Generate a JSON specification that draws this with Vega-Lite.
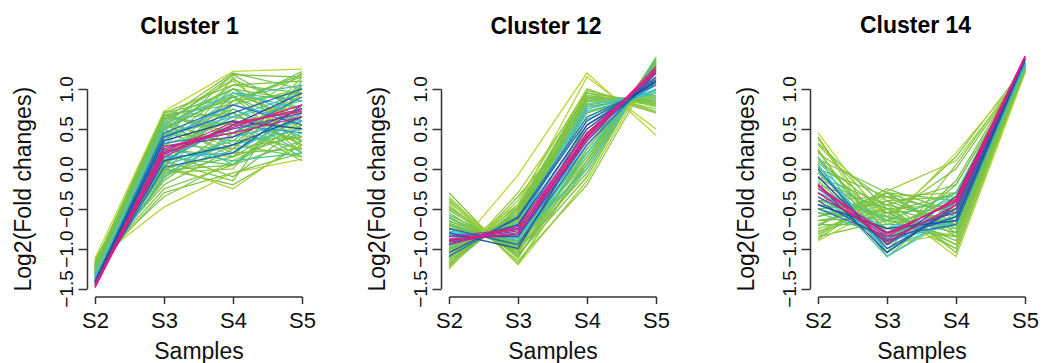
{
  "$schema": "https://vega.github.io/schema/vega-lite/v6.json",
  "background": "white",
  "padding": {"left": 12, "top": 14, "right": 5, "bottom": 3},
  "config": {
    "font": "Liberation Sans",
    "view": {"stroke": null},
    "axis": {"grid": false, "domainColor": "#333", "tickColor": "#333", "domainWidth": 1.5, "tickWidth": 1.5, "labelColor": "#111", "titleColor": "#111", "titleFontWeight": "normal", "labelFont": "Liberation Sans", "titleFont": "Liberation Sans"},
    "axisX": {"labelAngle": 0, "offset": 8, "tickSize": 7, "labelFontSize": 22, "titleFontSize": 23, "labelPadding": 7, "titlePadding": 9},
    "axisY": {"values": [-1.5, -1, -0.5, 0, 0.5, 1], "format": ".1f", "offset": 8, "tickSize": 9, "labelAngle": -90, "labelAlign": "center", "labelBaseline": "alphabetic", "labelFontSize": 19, "labelPadding": 6, "labelOverlap": false, "titleFontSize": 23, "titlePadding": 22},
    "title": {"font": "Liberation Sans", "fontSize": 23, "fontWeight": "bold", "color": "#000", "baseline": "alphabetic"}
  },
  "datasets": {
    "d": [
      {"c":1,"id":101,"m":0.50,"S2":-1.20,"S3":0.70,"S4":1.05,"S5":0.95},
      {"c":1,"id":102,"m":0.52,"S2":-1.23,"S3":0.68,"S4":0.80,"S5":1.22},
      {"c":1,"id":103,"m":0.48,"S2":-1.18,"S3":0.62,"S4":1.20,"S5":1.00},
      {"c":1,"id":104,"m":0.55,"S2":-1.28,"S3":0.58,"S4":1.12,"S5":0.75},
      {"c":1,"id":105,"m":0.45,"S2":-1.17,"S3":0.50,"S4":0.92,"S5":0.35},
      {"c":1,"id":106,"m":0.53,"S2":-1.25,"S3":0.45,"S4":0.60,"S5":0.15},
      {"c":1,"id":107,"m":0.50,"S2":-1.22,"S3":0.35,"S4":0.85,"S5":1.18},
      {"c":1,"id":108,"m":0.56,"S2":-1.30,"S3":0.30,"S4":0.25,"S5":0.95},
      {"c":1,"id":109,"m":0.47,"S2":-1.19,"S3":0.25,"S4":0.15,"S5":0.45},
      {"c":1,"id":110,"m":0.58,"S2":-1.33,"S3":0.20,"S4":0.70,"S5":0.20},
      {"c":1,"id":111,"m":0.44,"S2":-1.16,"S3":0.00,"S4":-0.20,"S5":0.30},
      {"c":1,"id":112,"m":0.51,"S2":-1.24,"S3":-0.05,"S4":0.15,"S5":1.10},
      {"c":1,"id":113,"m":0.46,"S2":-1.21,"S3":-0.25,"S4":0.05,"S5":0.60},
      {"c":1,"id":114,"m":0.54,"S2":-1.27,"S3":-0.12,"S4":0.55,"S5":0.80},
      {"c":1,"id":115,"m":0.57,"S2":-1.31,"S3":0.08,"S4":0.35,"S5":1.00},
      {"c":1,"id":116,"m":0.49,"S2":-1.20,"S3":0.72,"S4":0.65,"S5":0.50},
      {"c":1,"id":117,"m":0.60,"S2":-1.34,"S3":0.62,"S4":1.00,"S5":0.65},
      {"c":1,"id":118,"m":0.52,"S2":-1.26,"S3":0.55,"S4":0.20,"S5":0.25},
      {"c":1,"id":119,"m":0.43,"S2":-1.14,"S3":0.40,"S4":1.18,"S5":1.15},
      {"c":1,"id":120,"m":0.59,"S2":-1.35,"S3":0.05,"S4":0.75,"S5":0.40},
      {"c":1,"id":121,"m":0.55,"S2":-1.29,"S3":0.68,"S4":0.45,"S5":0.70},
      {"c":1,"id":122,"m":0.48,"S2":-1.23,"S3":-0.30,"S4":-0.05,"S5":0.20},
      {"c":1,"id":123,"m":0.62,"S2":-1.36,"S3":0.30,"S4":0.90,"S5":1.05},
      {"c":1,"id":124,"m":0.57,"S2":-1.32,"S3":0.50,"S4":0.05,"S5":0.35},
      {"c":1,"id":125,"m":0.61,"S2":-1.37,"S3":0.20,"S4":0.65,"S5":0.85},
      {"c":12,"id":101,"m":0.45,"S2":-0.30,"S3":-1.20,"S4":0.10,"S5":1.38},
      {"c":12,"id":102,"m":0.48,"S2":-0.38,"S3":-1.12,"S4":0.25,"S5":1.28},
      {"c":12,"id":103,"m":0.50,"S2":-1.22,"S3":-0.50,"S4":0.92,"S5":0.80},
      {"c":12,"id":104,"m":0.52,"S2":-1.18,"S3":-0.55,"S4":1.00,"S5":0.72},
      {"c":12,"id":105,"m":0.47,"S2":-0.42,"S3":-1.08,"S4":-0.10,"S5":1.40},
      {"c":12,"id":106,"m":0.55,"S2":-1.15,"S3":-0.58,"S4":0.85,"S5":0.84},
      {"c":12,"id":107,"m":0.53,"S2":-0.48,"S3":-1.05,"S4":0.45,"S5":1.12},
      {"c":12,"id":108,"m":0.49,"S2":-1.12,"S3":-0.48,"S4":0.98,"S5":0.78},
      {"c":12,"id":109,"m":0.56,"S2":-0.52,"S3":-1.02,"S4":0.05,"S5":1.35},
      {"c":12,"id":110,"m":0.51,"S2":-1.08,"S3":-0.55,"S4":0.88,"S5":0.82},
      {"c":12,"id":111,"m":0.58,"S2":-0.58,"S3":-0.98,"S4":0.20,"S5":1.28},
      {"c":12,"id":112,"m":0.46,"S2":-1.02,"S3":-0.62,"S4":0.95,"S5":0.70},
      {"c":12,"id":113,"m":0.54,"S2":-0.62,"S3":-0.95,"S4":0.55,"S5":1.05},
      {"c":12,"id":114,"m":0.57,"S2":-1.00,"S3":-0.60,"S4":0.78,"S5":0.90},
      {"c":12,"id":115,"m":0.60,"S2":-0.66,"S3":-0.92,"S4":0.15,"S5":1.32},
      {"c":12,"id":116,"m":0.50,"S2":-0.95,"S3":-0.65,"S4":0.90,"S5":0.85},
      {"c":12,"id":117,"m":0.59,"S2":-0.70,"S3":-1.00,"S4":0.62,"S5":1.00},
      {"c":12,"id":118,"m":0.62,"S2":-0.88,"S3":-0.75,"S4":0.85,"S5":0.92},
      {"c":12,"id":119,"m":0.44,"S2":-1.25,"S3":-0.35,"S4":0.70,"S5":0.95},
      {"c":12,"id":120,"m":0.61,"S2":-0.75,"S3":-0.90,"S4":0.50,"S5":1.08},
      {"c":14,"id":101,"m":0.45,"S2":0.40,"S3":-0.85,"S4":-0.50,"S5":1.24},
      {"c":14,"id":102,"m":0.48,"S2":0.32,"S3":-0.50,"S4":-0.70,"S5":1.25},
      {"c":14,"id":103,"m":0.50,"S2":-0.88,"S3":-0.30,"S4":-0.60,"S5":1.22},
      {"c":14,"id":104,"m":0.52,"S2":-0.82,"S3":-0.40,"S4":-1.05,"S5":1.23},
      {"c":14,"id":105,"m":0.47,"S2":0.22,"S3":-0.90,"S4":-0.20,"S5":1.26},
      {"c":14,"id":106,"m":0.55,"S2":-0.78,"S3":-0.55,"S4":-0.30,"S5":1.25},
      {"c":14,"id":107,"m":0.53,"S2":0.12,"S3":-0.30,"S4":-0.80,"S5":1.27},
      {"c":14,"id":108,"m":0.49,"S2":-0.72,"S3":-0.25,"S4":-0.55,"S5":1.24},
      {"c":14,"id":109,"m":0.56,"S2":0.08,"S3":-0.65,"S4":0.15,"S5":1.28},
      {"c":14,"id":110,"m":0.51,"S2":-0.65,"S3":-0.50,"S4":-1.00,"S5":1.25},
      {"c":14,"id":111,"m":0.58,"S2":-0.02,"S3":-1.00,"S4":-0.65,"S5":1.29},
      {"c":14,"id":112,"m":0.46,"S2":-0.60,"S3":-0.30,"S4":-0.40,"S5":1.23},
      {"c":14,"id":113,"m":0.54,"S2":-0.12,"S3":-0.55,"S4":-0.95,"S5":1.28},
      {"c":14,"id":114,"m":0.57,"S2":-0.50,"S3":-0.75,"S4":-0.35,"S5":1.27},
      {"c":14,"id":115,"m":0.60,"S2":0.02,"S3":-0.70,"S4":-0.70,"S5":1.30},
      {"c":14,"id":116,"m":0.50,"S2":-0.40,"S3":-0.35,"S4":-0.75,"S5":1.26},
      {"c":14,"id":117,"m":0.59,"S2":-0.18,"S3":-1.10,"S4":-0.60,"S5":1.30},
      {"c":14,"id":118,"m":0.62,"S2":-0.30,"S3":-0.60,"S4":-0.80,"S5":1.31},
      {"c":14,"id":119,"m":0.44,"S2":-0.85,"S3":-0.65,"S4":-0.85,"S5":1.22},
      {"c":14,"id":120,"m":0.61,"S2":-0.05,"S3":-0.85,"S4":-0.30,"S5":1.32},

      {"c":1,"id":1,"m":0.32,"S2":-1.12,"S3":0.72,"S4":1.22,"S5":1.25},
      {"c":1,"id":2,"m":0.33,"S2":-1.15,"S3":-0.48,"S4":-0.05,"S5":0.12},
      {"c":1,"id":3,"m":0.34,"S2":-1.18,"S3":0.05,"S4":-0.25,"S5":0.35},
      {"c":1,"id":4,"m":0.35,"S2":-1.20,"S3":0.65,"S4":1.10,"S5":0.45},
      {"c":1,"id":5,"m":0.36,"S2":-1.14,"S3":-0.05,"S4":0.00,"S5":0.95},
      {"c":1,"id":6,"m":0.37,"S2":-1.22,"S3":0.60,"S4":0.25,"S5":1.15},
      {"c":1,"id":7,"m":0.38,"S2":-1.25,"S3":0.00,"S4":1.15,"S5":0.25},
      {"c":1,"id":8,"m":0.39,"S2":-1.16,"S3":-0.35,"S4":0.10,"S5":0.55},
      {"c":1,"id":9,"m":0.40,"S2":-1.28,"S3":0.70,"S4":0.90,"S5":0.20},
      {"c":1,"id":10,"m":0.40,"S2":-1.19,"S3":0.30,"S4":0.60,"S5":1.20},
      {"c":1,"id":11,"m":0.41,"S2":-1.20,"S3":0.10,"S4":-0.15,"S5":1.05},
      {"c":1,"id":12,"m":0.42,"S2":-1.24,"S3":0.55,"S4":1.00,"S5":0.85},
      {"c":1,"id":13,"m":0.42,"S2":-1.23,"S3":0.64,"S4":0.55,"S5":0.10},
      {"c":1,"id":14,"m":0.43,"S2":-1.30,"S3":-0.10,"S4":0.30,"S5":0.15},
      {"c":1,"id":15,"m":0.44,"S2":-1.18,"S3":0.68,"S4":0.40,"S5":0.90},
      {"c":1,"id":16,"m":0.44,"S2":-1.17,"S3":-0.20,"S4":0.25,"S5":0.40},
      {"c":1,"id":17,"m":0.45,"S2":-1.26,"S3":0.02,"S4":0.95,"S5":0.60},
      {"c":1,"id":18,"m":0.46,"S2":-1.28,"S3":0.62,"S4":0.70,"S5":0.30},
      {"c":1,"id":19,"m":0.47,"S2":-1.22,"S3":-0.02,"S4":0.05,"S5":0.75},
      {"c":1,"id":20,"m":0.47,"S2":-1.26,"S3":0.55,"S4":1.18,"S5":0.70},
      {"c":1,"id":21,"m":0.48,"S2":-1.32,"S3":0.50,"S4":1.05,"S5":1.10},
      {"c":1,"id":22,"m":0.49,"S2":-1.25,"S3":0.08,"S4":0.60,"S5":0.35},
      {"c":1,"id":23,"m":0.49,"S2":-1.21,"S3":0.20,"S4":-0.10,"S5":0.55},
      {"c":1,"id":24,"m":0.50,"S2":-1.30,"S3":0.58,"S4":0.15,"S5":0.65},
      {"c":1,"id":25,"m":0.51,"S2":-1.27,"S3":-0.05,"S4":0.85,"S5":0.95},
      {"c":1,"id":26,"m":0.51,"S2":-1.29,"S3":0.66,"S4":0.85,"S5":1.15},
      {"c":1,"id":27,"m":0.52,"S2":-1.34,"S3":0.45,"S4":0.35,"S5":0.40},
      {"c":1,"id":28,"m":0.53,"S2":-1.29,"S3":0.12,"S4":0.80,"S5":1.00},
      {"c":1,"id":29,"m":0.53,"S2":-1.24,"S3":-0.15,"S4":0.45,"S5":0.25},
      {"c":1,"id":30,"m":0.54,"S2":-1.33,"S3":0.52,"S4":0.90,"S5":0.55},
      {"c":1,"id":31,"m":0.55,"S2":-1.31,"S3":0.00,"S4":0.20,"S5":0.80},
      {"c":1,"id":32,"m":0.55,"S2":-1.30,"S3":0.35,"S4":1.00,"S5":0.50},
      {"c":1,"id":33,"m":0.56,"S2":-1.35,"S3":0.40,"S4":0.75,"S5":0.30},
      {"c":1,"id":34,"m":0.57,"S2":-1.32,"S3":0.15,"S4":0.05,"S5":0.70},
      {"c":1,"id":35,"m":0.57,"S2":-1.27,"S3":0.60,"S4":0.30,"S5":1.05},
      {"c":1,"id":36,"m":0.58,"S2":-1.36,"S3":0.48,"S4":0.95,"S5":0.85},
      {"c":1,"id":37,"m":0.59,"S2":-1.33,"S3":0.25,"S4":0.10,"S5":0.20},
      {"c":1,"id":38,"m":0.60,"S2":-1.36,"S3":0.05,"S4":0.30,"S5":0.50},
      {"c":1,"id":39,"m":0.61,"S2":-1.35,"S3":0.55,"S4":0.95,"S5":0.75},
      {"c":1,"id":40,"m":0.62,"S2":-1.38,"S3":0.42,"S4":0.65,"S5":0.95},
      {"c":1,"id":41,"m":0.63,"S2":-1.34,"S3":-0.08,"S4":0.40,"S5":0.60},
      {"c":1,"id":42,"m":0.64,"S2":-1.37,"S3":0.15,"S4":0.20,"S5":0.70},
      {"c":1,"id":43,"m":0.66,"S2":-1.40,"S3":0.38,"S4":0.80,"S5":0.60},
      {"c":1,"id":44,"m":0.68,"S2":-1.39,"S3":0.10,"S4":0.55,"S5":0.45},
      {"c":1,"id":45,"m":0.70,"S2":-1.41,"S3":0.32,"S4":0.45,"S5":0.90},
      {"c":1,"id":46,"m":0.72,"S2":-1.40,"S3":0.45,"S4":0.80,"S5":0.55},
      {"c":1,"id":47,"m":0.74,"S2":-1.42,"S3":0.02,"S4":0.20,"S5":0.80},
      {"c":1,"id":48,"m":0.76,"S2":-1.41,"S3":0.40,"S4":0.70,"S5":1.00},
      {"c":1,"id":49,"m":0.78,"S2":-1.43,"S3":0.10,"S4":0.30,"S5":0.65},
      {"c":1,"id":50,"m":0.80,"S2":-1.42,"S3":0.35,"S4":0.60,"S5":0.50},
      {"c":1,"id":51,"m":0.82,"S2":-1.44,"S3":0.18,"S4":0.55,"S5":0.95},
      {"c":1,"id":52,"m":0.84,"S2":-1.43,"S3":0.28,"S4":0.40,"S5":0.75},
      {"c":1,"id":53,"m":0.87,"S2":-1.45,"S3":0.25,"S4":0.50,"S5":0.70},
      {"c":1,"id":54,"m":0.90,"S2":-1.46,"S3":0.15,"S4":0.55,"S5":0.75},
      {"c":1,"id":55,"m":0.93,"S2":-1.47,"S3":0.28,"S4":0.45,"S5":0.65},
      {"c":1,"id":56,"m":0.96,"S2":-1.48,"S3":0.20,"S4":0.52,"S5":0.80},
      {"c":1,"id":57,"m":0.99,"S2":-1.49,"S3":0.22,"S4":0.58,"S5":0.72},

      {"c":12,"id":1,"m":0.32,"S2":-1.10,"S3":-0.08,"S4":1.20,"S5":0.42},
      {"c":12,"id":2,"m":0.33,"S2":-1.05,"S3":-0.45,"S4":1.15,"S5":0.50},
      {"c":12,"id":3,"m":0.34,"S2":-0.35,"S3":-1.20,"S4":-0.15,"S5":1.35},
      {"c":12,"id":4,"m":0.35,"S2":-1.25,"S3":-0.30,"S4":0.95,"S5":0.75},
      {"c":12,"id":5,"m":0.36,"S2":-0.40,"S3":-1.18,"S4":0.05,"S5":1.40},
      {"c":12,"id":6,"m":0.37,"S2":-1.22,"S3":-0.40,"S4":1.00,"S5":0.70},
      {"c":12,"id":7,"m":0.38,"S2":-0.45,"S3":-1.15,"S4":-0.20,"S5":1.30},
      {"c":12,"id":8,"m":0.39,"S2":-1.20,"S3":-0.45,"S4":0.90,"S5":0.80},
      {"c":12,"id":9,"m":0.40,"S2":-0.50,"S3":-1.10,"S4":0.10,"S5":1.38},
      {"c":12,"id":10,"m":0.41,"S2":-1.18,"S3":-0.50,"S4":0.85,"S5":0.85},
      {"c":12,"id":11,"m":0.42,"S2":-0.55,"S3":-1.08,"S4":0.00,"S5":1.32},
      {"c":12,"id":12,"m":0.43,"S2":-1.15,"S3":-0.52,"S4":0.95,"S5":0.82},
      {"c":12,"id":13,"m":0.44,"S2":-0.60,"S3":-1.05,"S4":0.20,"S5":1.25},
      {"c":12,"id":14,"m":0.45,"S2":-1.12,"S3":-0.55,"S4":0.80,"S5":0.92},
      {"c":12,"id":15,"m":0.46,"S2":-0.62,"S3":-1.02,"S4":-0.05,"S5":1.36},
      {"c":12,"id":16,"m":0.47,"S2":-1.10,"S3":-0.58,"S4":0.88,"S5":0.86},
      {"c":12,"id":17,"m":0.48,"S2":-0.65,"S3":-1.00,"S4":0.30,"S5":1.20},
      {"c":12,"id":18,"m":0.49,"S2":-1.08,"S3":-0.60,"S4":0.75,"S5":0.95},
      {"c":12,"id":19,"m":0.50,"S2":-0.68,"S3":-0.98,"S4":0.15,"S5":1.30},
      {"c":12,"id":20,"m":0.51,"S2":-1.05,"S3":-0.62,"S4":0.82,"S5":0.88},
      {"c":12,"id":21,"m":0.52,"S2":-0.70,"S3":-0.96,"S4":0.05,"S5":1.34},
      {"c":12,"id":22,"m":0.53,"S2":-1.02,"S3":-0.65,"S4":0.70,"S5":0.98},
      {"c":12,"id":23,"m":0.54,"S2":-0.72,"S3":-0.94,"S4":0.25,"S5":1.22},
      {"c":12,"id":24,"m":0.55,"S2":-1.00,"S3":-0.66,"S4":0.78,"S5":0.90},
      {"c":12,"id":25,"m":0.56,"S2":-0.74,"S3":-0.92,"S4":0.10,"S5":1.32},
      {"c":12,"id":26,"m":0.57,"S2":-0.98,"S3":-0.68,"S4":0.65,"S5":1.00},
      {"c":12,"id":27,"m":0.58,"S2":-0.76,"S3":-0.90,"S4":0.35,"S5":1.15},
      {"c":12,"id":28,"m":0.59,"S2":-0.96,"S3":-0.70,"S4":0.72,"S5":0.95},
      {"c":12,"id":29,"m":0.60,"S2":-0.78,"S3":-0.88,"S4":0.20,"S5":1.26},
      {"c":12,"id":30,"m":0.61,"S2":-0.94,"S3":-0.70,"S4":0.80,"S5":0.95},
      {"c":12,"id":31,"m":0.62,"S2":-0.80,"S3":-0.86,"S4":0.00,"S5":1.38},
      {"c":12,"id":32,"m":0.64,"S2":-0.92,"S3":-0.72,"S4":0.75,"S5":0.98},
      {"c":12,"id":33,"m":0.66,"S2":-0.82,"S3":-0.85,"S4":0.30,"S5":1.22},
      {"c":12,"id":34,"m":0.68,"S2":-0.90,"S3":-0.74,"S4":0.55,"S5":1.05},
      {"c":12,"id":35,"m":0.70,"S2":-0.83,"S3":-0.84,"S4":0.40,"S5":1.15},
      {"c":12,"id":36,"m":0.72,"S2":-1.10,"S3":-0.60,"S4":0.65,"S5":1.05},
      {"c":12,"id":37,"m":0.74,"S2":-0.75,"S3":-0.95,"S4":0.30,"S5":1.20},
      {"c":12,"id":38,"m":0.76,"S2":-1.05,"S3":-0.62,"S4":0.60,"S5":1.08},
      {"c":12,"id":39,"m":0.78,"S2":-0.80,"S3":-1.00,"S4":0.45,"S5":1.12},
      {"c":12,"id":40,"m":0.80,"S2":-0.95,"S3":-0.70,"S4":0.55,"S5":1.10},
      {"c":12,"id":41,"m":0.82,"S2":-0.85,"S3":-0.85,"S4":0.35,"S5":1.25},
      {"c":12,"id":42,"m":0.84,"S2":-0.90,"S3":-0.78,"S4":0.50,"S5":1.15},
      {"c":12,"id":43,"m":0.87,"S2":-0.92,"S3":-0.80,"S4":0.40,"S5":1.20},
      {"c":12,"id":44,"m":0.89,"S2":-0.85,"S3":-0.75,"S4":0.35,"S5":1.25},
      {"c":12,"id":45,"m":0.92,"S2":-0.95,"S3":-0.72,"S4":0.45,"S5":1.22},
      {"c":12,"id":46,"m":0.95,"S2":-0.88,"S3":-0.82,"S4":0.38,"S5":1.28},
      {"c":12,"id":47,"m":0.98,"S2":-0.90,"S3":-0.76,"S4":0.42,"S5":1.24},

      {"c":14,"id":1,"m":0.32,"S2":0.45,"S3":-0.70,"S4":0.20,"S5":1.22},
      {"c":14,"id":2,"m":0.33,"S2":-0.90,"S3":-0.45,"S4":-1.10,"S5":1.20},
      {"c":14,"id":3,"m":0.34,"S2":0.38,"S3":-0.95,"S4":-0.80,"S5":1.25},
      {"c":14,"id":4,"m":0.35,"S2":-0.85,"S3":-0.28,"S4":0.10,"S5":1.22},
      {"c":14,"id":5,"m":0.36,"S2":0.30,"S3":-0.60,"S4":-1.00,"S5":1.24},
      {"c":14,"id":6,"m":0.37,"S2":-0.80,"S3":-0.35,"S4":-0.30,"S5":1.21},
      {"c":14,"id":7,"m":0.38,"S2":0.25,"S3":-1.05,"S4":0.05,"S5":1.26},
      {"c":14,"id":8,"m":0.39,"S2":-0.75,"S3":-0.50,"S4":-0.95,"S5":1.23},
      {"c":14,"id":9,"m":0.40,"S2":0.20,"S3":-0.40,"S4":-0.35,"S5":1.25},
      {"c":14,"id":10,"m":0.41,"S2":-0.70,"S3":-0.30,"S4":-0.85,"S5":1.22},
      {"c":14,"id":11,"m":0.42,"S2":0.15,"S3":-0.80,"S4":-0.60,"S5":1.27},
      {"c":14,"id":12,"m":0.43,"S2":-0.65,"S3":-0.60,"S4":0.00,"S5":1.24},
      {"c":14,"id":13,"m":0.44,"S2":0.10,"S3":-0.55,"S4":-0.90,"S5":1.26},
      {"c":14,"id":14,"m":0.45,"S2":-0.60,"S3":-0.40,"S4":-0.70,"S5":1.25},
      {"c":14,"id":15,"m":0.46,"S2":0.05,"S3":-1.10,"S4":-0.40,"S5":1.28},
      {"c":14,"id":16,"m":0.47,"S2":-0.55,"S3":-0.65,"S4":-0.75,"S5":1.24},
      {"c":14,"id":17,"m":0.48,"S2":0.00,"S3":-0.35,"S4":-0.55,"S5":1.27},
      {"c":14,"id":18,"m":0.49,"S2":-0.50,"S3":-0.45,"S4":-0.20,"S5":1.26},
      {"c":14,"id":19,"m":0.50,"S2":-0.05,"S3":-0.75,"S4":-0.85,"S5":1.28},
      {"c":14,"id":20,"m":0.51,"S2":-0.45,"S3":-0.55,"S4":-0.50,"S5":1.25},
      {"c":14,"id":21,"m":0.52,"S2":-0.10,"S3":-0.45,"S4":-0.65,"S5":1.29},
      {"c":14,"id":22,"m":0.53,"S2":-0.70,"S3":-0.70,"S4":-0.45,"S5":1.26},
      {"c":14,"id":23,"m":0.54,"S2":-0.15,"S3":-0.95,"S4":-0.15,"S5":1.30},
      {"c":14,"id":24,"m":0.55,"S2":-0.40,"S3":-0.60,"S4":-0.80,"S5":1.27},
      {"c":14,"id":25,"m":0.56,"S2":-0.20,"S3":-0.50,"S4":-0.45,"S5":1.30},
      {"c":14,"id":26,"m":0.57,"S2":-0.55,"S3":-0.85,"S4":-0.60,"S5":1.28},
      {"c":14,"id":27,"m":0.58,"S2":-0.25,"S3":-0.65,"S4":-0.30,"S5":1.31},
      {"c":14,"id":28,"m":0.59,"S2":-0.35,"S3":-0.90,"S4":-0.70,"S5":1.29},
      {"c":14,"id":29,"m":0.61,"S2":0.15,"S3":-1.10,"S4":-0.55,"S5":1.32},
      {"c":14,"id":30,"m":0.63,"S2":-0.30,"S3":-0.75,"S4":-0.55,"S5":1.32},
      {"c":14,"id":31,"m":0.65,"S2":0.05,"S3":-1.05,"S4":-0.40,"S5":1.33},
      {"c":14,"id":32,"m":0.67,"S2":-0.45,"S3":-0.80,"S4":-0.65,"S5":1.33},
      {"c":14,"id":33,"m":0.69,"S2":-0.10,"S3":-0.95,"S4":-0.50,"S5":1.34},
      {"c":14,"id":34,"m":0.72,"S2":-0.50,"S3":-0.85,"S4":-0.70,"S5":1.36},
      {"c":14,"id":35,"m":0.74,"S2":0.00,"S3":-1.00,"S4":-0.50,"S5":1.36},
      {"c":14,"id":36,"m":0.76,"S2":-0.40,"S3":-0.90,"S4":-0.60,"S5":1.37},
      {"c":14,"id":37,"m":0.78,"S2":-0.20,"S3":-1.05,"S4":-0.45,"S5":1.37},
      {"c":14,"id":38,"m":0.80,"S2":-0.45,"S3":-0.75,"S4":-0.65,"S5":1.38},
      {"c":14,"id":39,"m":0.82,"S2":-0.10,"S3":-0.95,"S4":-0.35,"S5":1.38},
      {"c":14,"id":40,"m":0.84,"S2":-0.35,"S3":-0.80,"S4":-0.55,"S5":1.38},
      {"c":14,"id":41,"m":0.87,"S2":-0.30,"S3":-0.88,"S4":-0.50,"S5":1.39},
      {"c":14,"id":42,"m":0.89,"S2":-0.25,"S3":-0.80,"S4":-0.42,"S5":1.40},
      {"c":14,"id":43,"m":0.92,"S2":-0.20,"S3":-0.92,"S4":-0.45,"S5":1.40},
      {"c":14,"id":44,"m":0.95,"S2":-0.30,"S3":-0.85,"S4":-0.38,"S5":1.41},
      {"c":14,"id":45,"m":0.98,"S2":-0.22,"S3":-0.82,"S4":-0.40,"S5":1.41}
    ]
  },
  "data": {"name": "d"},
  "bounds": "flush",
  "spacing": 147,
  "hconcat": [
    {
      "width": 207, "height": 199.5,
      "title": {"text": "Cluster 1", "offset": 28, "dx": -9},
      "transform": [{"filter": "datum.c === 1"}, {"fold": ["S2", "S3", "S4", "S5"], "as": ["s", "v"]}],
      "mark": {"type": "line", "strokeWidth": 1.25},
      "encoding": {
        "x": {"field": "s", "type": "ordinal", "scale": {"type": "point", "padding": 0}, "title": "Samples"},
        "y": {"field": "v", "type": "quantitative", "scale": {"domain": [-1.5, 1], "nice": false, "zero": false}, "title": "Log2(Fold changes)"},
        "color": {"field": "m", "type": "quantitative", "legend": null,
                  "scale": {"domain": [0.3, 0.35, 0.42, 0.56, 0.61, 0.66, 0.72, 0.8, 0.87, 0.92, 1.0], "range": ["#cddd25", "#a0ce3b", "#7cc243", "#74c250", "#4fc3c0", "#35b5e5", "#2a6fbe", "#1e4c9d", "#7c3f98", "#e51b80", "#e8177c"]}},
        "detail": {"field": "id", "type": "nominal"}
      }
    },
    {
      "width": 222, "height": 199.5,
      "title": {"text": "Cluster 12", "offset": 16, "dx": -14},
      "transform": [{"filter": "datum.c === 12"}, {"fold": ["S2", "S3", "S4", "S5"], "as": ["s", "v"]}],
      "mark": {"type": "line", "strokeWidth": 1.25},
      "encoding": {
        "x": {"field": "s", "type": "ordinal", "scale": {"type": "point", "padding": 0, "range": [0, 207]}, "title": "Samples"},
        "y": {"field": "v", "type": "quantitative", "scale": {"domain": [-1.5, 1], "nice": false, "zero": false}, "title": "Log2(Fold changes)"},
        "color": {"field": "m", "type": "quantitative", "legend": null,
                  "scale": {"domain": [0.3, 0.35, 0.42, 0.56, 0.61, 0.66, 0.72, 0.8, 0.87, 0.92, 1.0], "range": ["#cddd25", "#a0ce3b", "#7cc243", "#74c250", "#4fc3c0", "#35b5e5", "#2a6fbe", "#1e4c9d", "#7c3f98", "#e51b80", "#e8177c"]}},
        "detail": {"field": "id", "type": "nominal"}
      }
    },
    {
      "width": 207, "height": 199.5,
      "title": {"text": "Cluster 14", "offset": 16, "dx": -6},
      "transform": [{"filter": "datum.c === 14"}, {"fold": ["S2", "S3", "S4", "S5"], "as": ["s", "v"]}],
      "mark": {"type": "line", "strokeWidth": 1.25},
      "encoding": {
        "x": {"field": "s", "type": "ordinal", "scale": {"type": "point", "padding": 0}, "title": "Samples"},
        "y": {"field": "v", "type": "quantitative", "scale": {"domain": [-1.5, 1], "nice": false, "zero": false}, "title": "Log2(Fold changes)"},
        "color": {"field": "m", "type": "quantitative", "legend": null,
                  "scale": {"domain": [0.3, 0.35, 0.42, 0.56, 0.61, 0.66, 0.72, 0.8, 0.87, 0.92, 1.0], "range": ["#cddd25", "#a0ce3b", "#7cc243", "#74c250", "#4fc3c0", "#35b5e5", "#2a6fbe", "#1e4c9d", "#7c3f98", "#e51b80", "#e8177c"]}},
        "detail": {"field": "id", "type": "nominal"}
      }
    }
  ],
  "resolve": {"scale": {"x": "independent", "y": "independent"}}
}
